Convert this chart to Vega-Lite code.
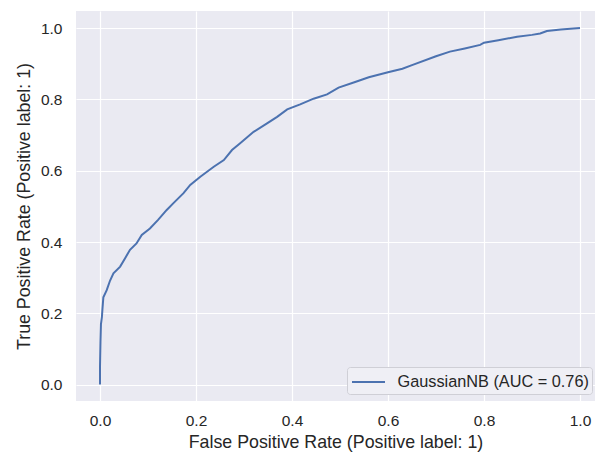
{
  "$schema": "https://vega.github.io/schema/vega-lite/v6.json",
  "width": 519,
  "height": 390,
  "autosize": {"type": "none"},
  "padding": {"left": 76, "top": 11, "right": 0, "bottom": 51},
  "background": "white",
  "config": {
    "view": {"fill": "#EAEAF2", "stroke": null},
    "font": "Liberation Sans",
    "axis": {
      "domain": false,
      "ticks": false,
      "grid": true,
      "gridColor": "white",
      "gridWidth": 1.2,
      "labelFont": "Liberation Sans",
      "labelFontSize": 15.5,
      "labelColor": "#262626",
      "titleFont": "Liberation Sans",
      "titleFontSize": 17.8,
      "titleFontWeight": "normal",
      "titleColor": "#262626"
    },
    "legend": {
      "labelFont": "Liberation Sans",
      "labelFontSize": 16.3,
      "labelColor": "#262626"
    }
  },
  "data": {
    "values": [
      {"fpr": 0, "tpr": 0, "model": "GaussianNB (AUC = 0.76)"},
      {"fpr": 0, "tpr": 0.05, "model": "GaussianNB (AUC = 0.76)"},
      {"fpr": 0.001, "tpr": 0.12, "model": "GaussianNB (AUC = 0.76)"},
      {"fpr": 0.002, "tpr": 0.17, "model": "GaussianNB (AUC = 0.76)"},
      {"fpr": 0.004, "tpr": 0.19, "model": "GaussianNB (AUC = 0.76)"},
      {"fpr": 0.005, "tpr": 0.21, "model": "GaussianNB (AUC = 0.76)"},
      {"fpr": 0.007, "tpr": 0.245, "model": "GaussianNB (AUC = 0.76)"},
      {"fpr": 0.014, "tpr": 0.265, "model": "GaussianNB (AUC = 0.76)"},
      {"fpr": 0.021, "tpr": 0.292, "model": "GaussianNB (AUC = 0.76)"},
      {"fpr": 0.028, "tpr": 0.312, "model": "GaussianNB (AUC = 0.76)"},
      {"fpr": 0.042, "tpr": 0.331, "model": "GaussianNB (AUC = 0.76)"},
      {"fpr": 0.052, "tpr": 0.354, "model": "GaussianNB (AUC = 0.76)"},
      {"fpr": 0.0625, "tpr": 0.378, "model": "GaussianNB (AUC = 0.76)"},
      {"fpr": 0.076, "tpr": 0.396, "model": "GaussianNB (AUC = 0.76)"},
      {"fpr": 0.087, "tpr": 0.42, "model": "GaussianNB (AUC = 0.76)"},
      {"fpr": 0.104, "tpr": 0.438, "model": "GaussianNB (AUC = 0.76)"},
      {"fpr": 0.121, "tpr": 0.462, "model": "GaussianNB (AUC = 0.76)"},
      {"fpr": 0.139, "tpr": 0.49, "model": "GaussianNB (AUC = 0.76)"},
      {"fpr": 0.153, "tpr": 0.509, "model": "GaussianNB (AUC = 0.76)"},
      {"fpr": 0.174, "tpr": 0.537, "model": "GaussianNB (AUC = 0.76)"},
      {"fpr": 0.188, "tpr": 0.56, "model": "GaussianNB (AUC = 0.76)"},
      {"fpr": 0.209, "tpr": 0.583, "model": "GaussianNB (AUC = 0.76)"},
      {"fpr": 0.237, "tpr": 0.611, "model": "GaussianNB (AUC = 0.76)"},
      {"fpr": 0.258, "tpr": 0.63, "model": "GaussianNB (AUC = 0.76)"},
      {"fpr": 0.275, "tpr": 0.658, "model": "GaussianNB (AUC = 0.76)"},
      {"fpr": 0.292, "tpr": 0.677, "model": "GaussianNB (AUC = 0.76)"},
      {"fpr": 0.32, "tpr": 0.709, "model": "GaussianNB (AUC = 0.76)"},
      {"fpr": 0.348, "tpr": 0.733, "model": "GaussianNB (AUC = 0.76)"},
      {"fpr": 0.369, "tpr": 0.751, "model": "GaussianNB (AUC = 0.76)"},
      {"fpr": 0.39, "tpr": 0.772, "model": "GaussianNB (AUC = 0.76)"},
      {"fpr": 0.417, "tpr": 0.786, "model": "GaussianNB (AUC = 0.76)"},
      {"fpr": 0.445, "tpr": 0.802, "model": "GaussianNB (AUC = 0.76)"},
      {"fpr": 0.473, "tpr": 0.814, "model": "GaussianNB (AUC = 0.76)"},
      {"fpr": 0.497, "tpr": 0.833, "model": "GaussianNB (AUC = 0.76)"},
      {"fpr": 0.53, "tpr": 0.848, "model": "GaussianNB (AUC = 0.76)"},
      {"fpr": 0.56, "tpr": 0.862, "model": "GaussianNB (AUC = 0.76)"},
      {"fpr": 0.6, "tpr": 0.876, "model": "GaussianNB (AUC = 0.76)"},
      {"fpr": 0.63, "tpr": 0.886, "model": "GaussianNB (AUC = 0.76)"},
      {"fpr": 0.65, "tpr": 0.896, "model": "GaussianNB (AUC = 0.76)"},
      {"fpr": 0.7, "tpr": 0.921, "model": "GaussianNB (AUC = 0.76)"},
      {"fpr": 0.729, "tpr": 0.934, "model": "GaussianNB (AUC = 0.76)"},
      {"fpr": 0.76, "tpr": 0.943, "model": "GaussianNB (AUC = 0.76)"},
      {"fpr": 0.792, "tpr": 0.953, "model": "GaussianNB (AUC = 0.76)"},
      {"fpr": 0.8, "tpr": 0.959, "model": "GaussianNB (AUC = 0.76)"},
      {"fpr": 0.83, "tpr": 0.966, "model": "GaussianNB (AUC = 0.76)"},
      {"fpr": 0.869, "tpr": 0.976, "model": "GaussianNB (AUC = 0.76)"},
      {"fpr": 0.9, "tpr": 0.981, "model": "GaussianNB (AUC = 0.76)"},
      {"fpr": 0.917, "tpr": 0.985, "model": "GaussianNB (AUC = 0.76)"},
      {"fpr": 0.931, "tpr": 0.992, "model": "GaussianNB (AUC = 0.76)"},
      {"fpr": 0.96, "tpr": 0.996, "model": "GaussianNB (AUC = 0.76)"},
      {"fpr": 1.0, "tpr": 1.0, "model": "GaussianNB (AUC = 0.76)"}
    ]
  },
  "mark": {"type": "line", "strokeWidth": 2, "clip": true},
  "encoding": {
    "x": {
      "field": "fpr",
      "type": "quantitative",
      "scale": {"domain": [-0.05, 1.03125], "nice": false, "zero": false},
      "axis": {"values": [0, 0.2, 0.4, 0.6, 0.8, 1.0], "format": ".1f", "title": "False Positive Rate (Positive label: 1)", "labelPadding": 12, "titlePadding": 5}
    },
    "y": {
      "field": "tpr",
      "type": "quantitative",
      "scale": {"domain": [-0.046, 1.048], "nice": false, "zero": false},
      "axis": {"values": [0, 0.2, 0.4, 0.6, 0.8, 1.0], "format": ".1f", "title": "True Positive Rate (Positive label: 1)", "labelPadding": 14, "titlePadding": 7}
    },
    "color": {
      "field": "model",
      "type": "nominal",
      "scale": {"range": ["#4C72B0"]},
      "legend": {
        "title": null,
        "orient": "none",
        "legendX": 271,
        "legendY": 356,
        "symbolType": "M-1.5,0H1.5",
        "symbolSize": 484,
        "symbolStrokeWidth": 2,
        "symbolOffset": 6.5,
        "labelOffset": 17,
        "labelLimit": 400,
        "padding": 3,
        "fillColor": "#EFEFF5",
        "strokeColor": "#CFCFD6",
        "cornerRadius": 3
      }
    }
  }
}
